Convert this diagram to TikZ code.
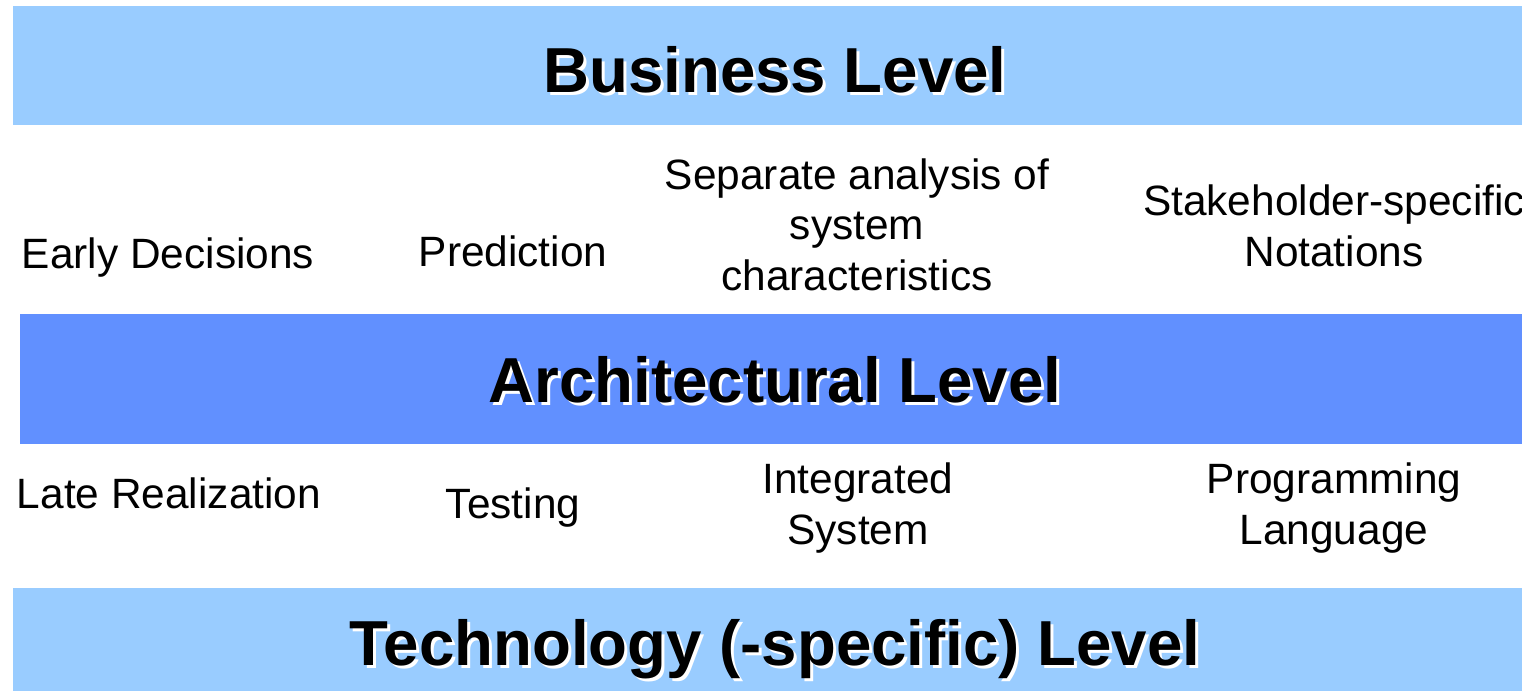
\documentclass[tikz,border=0pt]{standalone}
\usepackage{fontspec}
\setmainfont{Liberation Sans}
\definecolor{lightband}{HTML}{99CCFF}
\definecolor{darkband}{HTML}{6190FF}
\begin{document}
\begin{tikzpicture}[x=0.5pt,y=-0.5pt,
  band/.style={fill=#1,draw=none},
  title/.style={font=\fontsize{31.8}{36}\selectfont\bfseries,anchor=base,inner sep=0pt},
  shadow/.style={title,text=white},
  item/.style={font=\fontsize{21.2}{25.2}\selectfont,align=center,anchor=base,inner sep=0pt}]
\useasboundingbox (0,0) rectangle (1522,691);
\begin{scope}
\clip (0,0) rectangle (1522,691);
% bands
\path[band=lightband] (13,6) rectangle (1522,125);
\path[band=darkband] (20,314) rectangle (1522,444);
\path[band=lightband] (13,588) rectangle (1522,691);
% titles with white shadow
\node[shadow] (bshadow) at (778,95) {Business Level};
\node[title] (business) at (775,92) {Business Level};
\node[shadow] (ashadow) at (778,405) {Architectural Level};
\node[title] (architectural) at (775,402) {Architectural Level};
\node[shadow] (tshadow) at (778,668) {Technology (-specific) Level};
\node[title] (technology) at (775,665) {Technology (-specific) Level};
% upper items
\node[item] (early) at (168,268) {Early Decisions};
\node[item] (prediction) at (513,266) {Prediction};
\node[item] (separate) at (857,290) {Separate analysis of\\system\\characteristics};
\node[item] (stake) at (1334,266) {Stakeholder-specific\\Notations};
% lower items
\node[item] (late) at (169,508) {Late Realization};
\node[item] (testing) at (513,518) {Testing};
\node[item] (integrated) at (858,544) {Integrated\\System};
\node[item] (programming) at (1334,544) {Programming\\Language};
\end{scope}
\end{tikzpicture}
\end{document}
